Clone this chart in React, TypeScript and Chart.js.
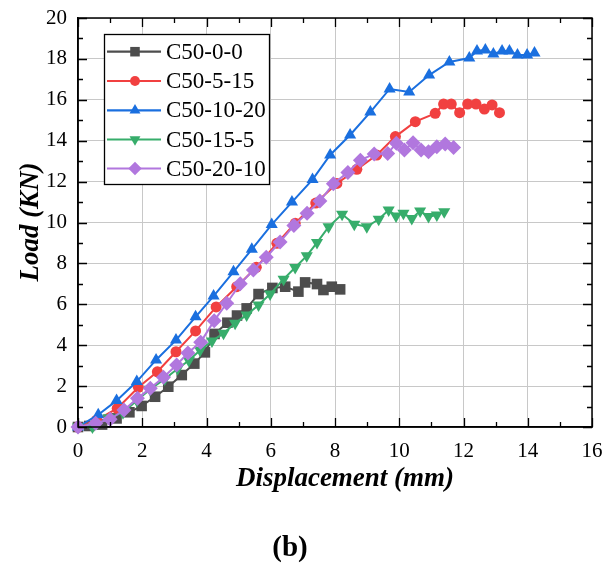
import React, { useEffect, useRef } from "react";
import { Chart, registerables } from "chart.js";

Chart.register(...registerables);

const seriesNames = ["C50-0-0", "C50-5-15", "C50-10-20", "C50-15-5", "C50-20-10"];
const seriesColors = ["#4D4D4D", "#F14040", "#1A6FDF", "#37AD6B", "#B177DE"];

const xTickValues = [0, 2, 4, 6, 8, 10, 12, 14, 16];
const yTickValues = [0, 2, 4, 6, 8, 10, 12, 14, 16, 18, 20];

const c0x = [0, 0.35, 0.75, 1.2, 1.6, 1.98, 2.4, 2.81, 3.23, 3.62, 3.95, 4.25, 4.65, 4.95, 5.25, 5.62, 6.05, 6.45, 6.86, 7.07, 7.44, 7.64, 7.9, 8.16];
const c0y = [0, 0.05, 0.12, 0.42, 0.72, 1.03, 1.48, 1.97, 2.54, 3.1, 3.65, 4.55, 5.1, 5.45, 5.8, 6.5, 6.8, 6.86, 6.62, 7.07, 6.99, 6.7, 6.86, 6.73];

const c1x = [0, 0.58, 1.22, 1.88, 2.47, 3.05, 3.66, 4.3, 4.94, 5.55, 6.19, 6.76, 7.4, 8.06, 8.68, 9.3, 9.88, 10.5, 11.12, 11.38, 11.62, 11.88, 12.13, 12.39, 12.65, 12.89, 13.12];
const c1y = [0, 0.34, 0.91, 1.94, 2.7, 3.68, 4.7, 5.87, 6.86, 7.81, 8.98, 9.96, 10.95, 11.91, 12.6, 13.3, 14.2, 14.93, 15.34, 15.79, 15.79, 15.37, 15.79, 15.79, 15.55, 15.75, 15.37];

const c2x = [0, 0.63, 1.2, 1.83, 2.43, 3.05, 3.66, 4.22, 4.84, 5.41, 6.03, 6.66, 7.3, 7.85, 8.47, 9.1, 9.7, 10.31, 10.93, 11.56, 12.18, 12.42, 12.68, 12.93, 13.2, 13.43, 13.68, 13.98, 14.21];
const c2y = [0, 0.6, 1.29, 2.22, 3.28, 4.25, 5.39, 6.4, 7.59, 8.69, 9.9, 11.0, 12.1, 13.3, 14.28, 15.4, 16.53, 16.38, 17.21, 17.85, 18.04, 18.39, 18.44, 18.24, 18.39, 18.39, 18.19, 18.19, 18.29];

const c3x = [0, 0.45, 0.95, 1.4, 1.83, 2.24, 2.7, 3.1, 3.45, 3.8, 4.17, 4.53, 4.89, 5.25, 5.62, 5.98, 6.4, 6.76, 7.12, 7.44, 7.8, 8.22, 8.6, 8.99, 9.36, 9.67, 9.9, 10.13, 10.39, 10.65, 10.91, 11.17, 11.4];
const c3y = [0, 0.0, 0.45, 0.7, 1.3, 1.84, 2.35, 2.85, 3.25, 3.75, 4.2, 4.58, 5.07, 5.48, 5.97, 6.5, 7.23, 7.8, 8.37, 9.02, 9.79, 10.4, 9.92, 9.79, 10.16, 10.61, 10.32, 10.45, 10.2, 10.56, 10.29, 10.37, 10.53];

const c4x = [0, 0.55, 1.0, 1.43, 1.85, 2.25, 2.66, 3.07, 3.42, 3.82, 4.24, 4.63, 5.05, 5.46, 5.86, 6.29, 6.72, 7.13, 7.53, 7.95, 8.4, 8.79, 9.22, 9.64, 9.91, 10.16, 10.43, 10.68, 10.91, 11.17, 11.43, 11.69];
const c4y = [0, 0.18, 0.38, 0.83, 1.4, 1.89, 2.43, 3.03, 3.62, 4.15, 5.2, 6.05, 7.0, 7.68, 8.3, 9.05, 9.85, 10.45, 11.05, 11.9, 12.45, 13.05, 13.35, 13.38, 13.87, 13.55, 13.9, 13.55, 13.46, 13.71, 13.84, 13.67];

const seriesX = [c0x, c1x, c2x, c3x, c4x];
const seriesY = [c0y, c1y, c2y, c3y, c4y];
const pointStyles = ["rect", "circle", "triangle", "triangle", "rectRot"];
const pointRotations = [0, 0, 0, 180, 0];
const pointRadii = [7.5, 5.5, 7, 7, 7.5];

const xTitle = "Displacement (mm)";
const yTitle = "Load (KN)";
const panelLabel = "(b)";

function drawMarker(ctx: CanvasRenderingContext2D, style: string, rot: number, r: number, x: number, y: number) {
  ctx.beginPath();
  if (style === "rect") {
    const s = r * Math.SQRT1_2;
    ctx.rect(x - s, y - s, 2 * s, 2 * s);
  } else if (style === "circle") {
    ctx.arc(x, y, r, 0, Math.PI * 2);
  } else if (style === "triangle") {
    let rad = (rot * Math.PI) / 180;
    ctx.moveTo(x + Math.sin(rad) * r, y - Math.cos(rad) * r);
    rad += (2 * Math.PI) / 3;
    ctx.lineTo(x + Math.sin(rad) * r, y - Math.cos(rad) * r);
    rad += (2 * Math.PI) / 3;
    ctx.lineTo(x + Math.sin(rad) * r, y - Math.cos(rad) * r);
    ctx.closePath();
  } else if (style === "rectRot") {
    ctx.moveTo(x - r, y);
    ctx.lineTo(x, y - r);
    ctx.lineTo(x + r, y);
    ctx.lineTo(x, y + r);
    ctx.closePath();
  }
  ctx.fill();
}

const framePlugin = {
  id: "frameAndText",
  afterDatasetsDraw(chart: any) {
    const { ctx, chartArea: a, scales } = chart;
    const xs = scales.x;
    const ys = scales.y;
    ctx.save();
    // frame
    ctx.strokeStyle = "#000";
    ctx.lineWidth = 1.5;
    ctx.strokeRect(a.left, a.top, a.right - a.left, a.bottom - a.top);
    // inside ticks, mirrored
    ctx.lineWidth = 1.3;
    ctx.beginPath();
    for (let v = 0; v <= 16; v += 1) {
      const px = Math.round(xs.getPixelForValue(v)) + 0.5;
      const len = v % 2 === 0 ? 9 : 5;
      ctx.moveTo(px, a.bottom);
      ctx.lineTo(px, a.bottom - len);
      ctx.moveTo(px, a.top);
      ctx.lineTo(px, a.top + len);
    }
    for (let v = 0; v <= 20; v += 1) {
      const py = Math.round(ys.getPixelForValue(v)) + 0.5;
      const len = v % 2 === 0 ? 9 : 5;
      ctx.moveTo(a.left, py);
      ctx.lineTo(a.left + len, py);
      ctx.moveTo(a.right, py);
      ctx.lineTo(a.right - len, py);
    }
    ctx.stroke();

    // legend
    const bx = 104.5, by = 34.5, bw = 165, bh = 150;
    ctx.fillStyle = "#fff";
    ctx.fillRect(bx, by, bw, bh);
    ctx.strokeStyle = "#000";
    ctx.lineWidth = 1.3;
    ctx.strokeRect(bx, by, bw, bh);
    const rowY = [51.7, 81, 110.3, 139.5, 168.5];
    ctx.font = "23px 'Liberation Serif', 'Times New Roman', serif";
    ctx.textBaseline = "middle";
    ctx.textAlign = "left";
    for (let i = 0; i < seriesNames.length; i++) {
      const yy = rowY[i];
      ctx.strokeStyle = seriesColors[i];
      ctx.lineWidth = 2.2;
      ctx.beginPath();
      ctx.moveTo(107, yy);
      ctx.lineTo(161, yy);
      ctx.stroke();
      ctx.fillStyle = seriesColors[i];
      drawMarker(ctx, pointStyles[i], pointRotations[i], pointRadii[i] * 0.9, 135, yy);
      ctx.fillStyle = "#000";
      ctx.fillText(seriesNames[i], 166, yy + 1);
    }

    // axis titles
    ctx.fillStyle = "#000";
    ctx.font = "italic bold 27px 'Liberation Serif', 'Times New Roman', serif";
    ctx.textAlign = "center";
    ctx.textBaseline = "middle";
    ctx.fillText(xTitle, 345, 479);
    ctx.save();
    ctx.translate(31, 222);
    ctx.rotate(-Math.PI / 2);
    ctx.fillText(yTitle, 0, 0);
    ctx.restore();
    ctx.font = "bold 29px 'Liberation Serif', 'Times New Roman', serif";
    ctx.fillText(panelLabel, 290, 549);
    ctx.restore();
  },
};

export default function App() {
  const ref = useRef<HTMLCanvasElement | null>(null);
  useEffect(() => {
    if (!ref.current) return;
    const datasets = seriesNames.map((name, i) => ({
      label: name,
      data: seriesX[i].map((x, j) => ({ x, y: seriesY[i][j] })),
      borderColor: seriesColors[i],
      backgroundColor: seriesColors[i],
      pointBackgroundColor: seriesColors[i],
      pointBorderColor: seriesColors[i],
      pointBorderWidth: 0,
      pointStyle: pointStyles[i],
      pointRotation: pointRotations[i],
      pointRadius: pointRadii[i],
      borderWidth: 2,
      tension: 0,
      showLine: true,
      clip: false,
      order: seriesNames.length - i,
    }));
    const chart = new Chart(ref.current, {
      type: "scatter",
      data: { datasets },
      plugins: [framePlugin],
      options: {
        responsive: false,
        animation: false,
        devicePixelRatio: 1,
        layout: { padding: { top: 18, right: 17, left: 0, bottom: 0 } },
        plugins: { legend: { display: false }, tooltip: { enabled: false } },
        scales: {
          x: {
            type: "linear",
            min: 0,
            max: 16,
            afterFit: (s: any) => {
              s.height = 137;
              s.paddingLeft = 0;
              s.paddingRight = 0;
            },
            afterBuildTicks: (s: any) => {
              s.ticks = xTickValues.map((v) => ({ value: v }));
            },
            ticks: {
              color: "#000",
              padding: 12,
              maxRotation: 0,
              font: { family: "'Liberation Serif', 'Times New Roman', serif", size: 21 },
            },
            grid: { color: "#c8c8c8", lineWidth: 1, drawTicks: false },
            border: { display: true, color: "#000", width: 1.5 },
          },
          y: {
            type: "linear",
            min: 0,
            max: 20,
            afterFit: (s: any) => {
              s.width = 78;
              s.paddingTop = 0;
              s.paddingBottom = 0;
            },
            afterBuildTicks: (s: any) => {
              s.ticks = yTickValues.map((v) => ({ value: v }));
            },
            ticks: {
              color: "#000",
              padding: 11,
              font: { family: "'Liberation Serif', 'Times New Roman', serif", size: 21 },
            },
            grid: { color: "#c8c8c8", lineWidth: 1, drawTicks: false },
            border: { display: true, color: "#000", width: 1.5 },
          },
        },
      },
    } as any);
    return () => chart.destroy();
  }, []);
  return (
    <div style={{ position: "fixed", left: 0, top: 0, width: 609, height: 564, background: "#fff" }}>
      <canvas ref={ref} width={609} height={564} style={{ width: 609, height: 564, display: "block" }} />
    </div>
  );
}
